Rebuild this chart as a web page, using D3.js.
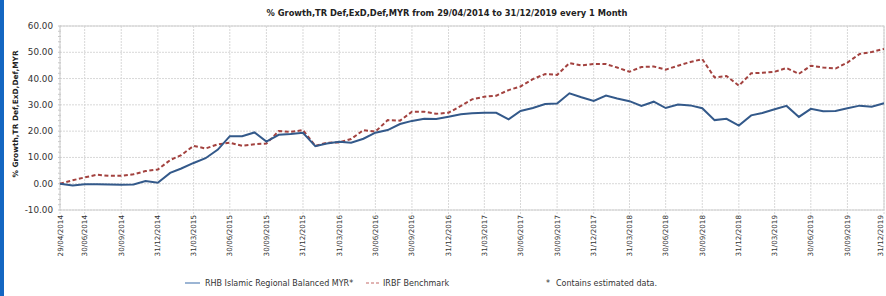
<!DOCTYPE html>
<html>
<head>
<meta charset="utf-8">
<script src="https://cdn.jsdelivr.net/npm/d3@7"></script>
<style>
  body { margin: 0; padding: 0; background: #fff; font-family: "DejaVu Sans", Verdana, sans-serif; }
  svg { display: block; }
</style>
</head>
<body>
<svg id="chart" width="886" height="296"></svg>
<script>
// values, one per month end, 29/04/2014 .. 31/12/2019
const fundValues = [
  0.0, -0.7, -0.2, -0.2, -0.3, -0.4, -0.3, 1.0, 0.4, 4.1,
  5.8, 7.9, 9.7, 13.0, 18.1, 18.1, 19.5, 16.0, 18.6, 18.9,
  19.4, 14.3, 15.3, 16.0, 15.6, 17.1, 19.4, 20.4, 22.7, 23.9,
  24.7, 24.6, 25.5, 26.4, 26.8, 27.0, 27.0, 24.5, 27.7, 28.8,
  30.3, 30.5, 34.4, 32.9, 31.5, 33.5, 32.4, 31.4, 29.6, 31.2,
  28.8, 30.1, 29.8, 28.7, 24.2, 24.7, 22.1, 26.0, 26.9, 28.3,
  29.6, 25.4, 28.5, 27.6, 27.7, 28.7, 29.7, 29.3, 30.6
];
const benchValues = [
  0.0, 1.3, 2.4, 3.4, 3.0, 3.0, 3.6, 4.8, 5.4, 9.0,
  10.9, 14.4, 13.4, 15.0, 15.6, 14.4, 15.0, 15.3, 20.0, 19.7,
  20.4, 14.4, 15.6, 15.7, 17.0, 20.4, 19.8, 24.2, 24.0, 27.4,
  27.4, 26.6, 27.0, 29.6, 32.1, 33.1, 33.5, 35.6, 37.0, 39.8,
  41.7, 41.4, 45.9, 45.0, 45.6, 45.5, 44.2, 42.6, 44.4, 44.6,
  43.4, 44.9, 46.3, 47.4, 40.4, 41.0, 37.3, 42.0, 42.2, 42.6,
  44.0, 41.8, 44.9, 44.2, 43.8, 46.1, 49.4, 50.1, 51.3
];
const tickLabels = [
  "29/04/2014", "30/06/2014", "30/09/2014", "31/12/2014", "31/03/2015", "30/06/2015",
  "30/09/2015", "31/12/2015", "31/03/2016", "30/06/2016", "30/09/2016", "31/12/2016",
  "31/03/2017", "30/06/2017", "30/09/2017", "31/12/2017", "31/03/2018", "30/06/2018",
  "30/09/2018", "31/12/2018", "31/03/2019", "30/06/2019", "30/09/2019", "31/12/2019"
];
const yTicks = [-10, 0, 10, 20, 30, 40, 50, 60];
const seriesNames = ["RHB Islamic Regional Balanced MYR*", "IRBF Benchmark"];
const titleText = "% Growth,TR Def,ExD,Def,MYR from 29/04/2014 to 31/12/2019 every 1 Month";
const yTitle = "% Growth,TR Def,ExD,Def,MYR";
const noteText = "Contains estimated data.";

const parseDate = d3.timeParse("%d/%m/%Y");
const startDate = parseDate(tickLabels[0]);
// month-end dates, first point is the start date
const dates = fundValues.map((v, i) => i === 0 ? startDate : new Date(2014, 3 + i + 1, 0));

const fundColor = "#33598a";
const benchColor = "#a3423f";

const svg = d3.select("#chart");

// blue frame stripe on the left
svg.append("rect").attr("x", 0).attr("y", 0).attr("width", 4).attr("height", 296).attr("fill", "#1467c2");

const plotLeft = 60, plotRight = 884, plotTop = 26, plotBottom = 210;

const x = d3.scaleTime().domain([dates[0], dates[dates.length - 1]]).range([plotLeft, plotRight]);
const y = d3.scaleLinear().domain([-10, 60]).range([plotBottom, plotTop]);

const tickDates = tickLabels.map(parseDate);

// gridlines
svg.append("g")
  .selectAll("line")
  .data(yTicks)
  .join("line")
  .attr("x1", plotLeft).attr("x2", plotRight)
  .attr("y1", d => y(d)).attr("y2", d => y(d))
  .attr("stroke", "#d8d8d8")
  .attr("stroke-dasharray", "2,1");

svg.append("g")
  .selectAll("line")
  .data(tickDates)
  .join("line")
  .attr("x1", d => x(d)).attr("x2", d => x(d))
  .attr("y1", plotTop).attr("y2", plotBottom + 4)
  .attr("stroke", "#d8d8d8")
  .attr("stroke-dasharray", "2,1");

// plot frame
svg.append("rect")
  .attr("x", plotLeft).attr("y", plotTop)
  .attr("width", plotRight - plotLeft).attr("height", plotBottom - plotTop)
  .attr("fill", "none").attr("stroke", "#d0d0d0");

// y axis minor ticks
svg.append("g")
  .selectAll("line")
  .data(d3.range(-10, 60.1, 2))
  .join("line")
  .attr("x1", plotLeft - 2).attr("x2", plotLeft + 1)
  .attr("y1", d => y(d)).attr("y2", d => y(d))
  .attr("stroke", "#c8c8c8");

// y tick labels
svg.append("g")
  .selectAll("text")
  .data(yTicks)
  .join("text")
  .attr("x", plotLeft - 7)
  .attr("y", d => y(d) + 3)
  .attr("text-anchor", "end")
  .attr("font-size", "8.8px")
  .attr("fill", "#333")
  .text(d => d.toFixed(2));

// x tick labels, rotated (last one pulled in so it stays on the page)
svg.append("g")
  .selectAll("text")
  .data(tickDates)
  .join("text")
  .attr("transform", (d, i) => `translate(${Math.min(x(d) + 2.5, 883)},${plotBottom + 5}) rotate(-90)`)
  .attr("text-anchor", "end")
  .attr("font-size", "7.2px")
  .attr("fill", "#333")
  .text((d, i) => tickLabels[i]);

// title
svg.append("text")
  .attr("x", 447).attr("y", 16)
  .attr("text-anchor", "middle")
  .attr("font-size", "8.3px")
  .attr("font-weight", "bold")
  .attr("fill", "#222")
  .text(titleText);

svg.append("text")
  .attr("transform", "translate(18,114) rotate(-90)")
  .attr("text-anchor", "middle")
  .attr("font-size", "7.4px")
  .attr("font-weight", "bold")
  .attr("fill", "#222")
  .text(yTitle);

// lines
const line = d3.line()
  .x((d, i) => x(dates[i]))
  .y(d => y(d));

svg.append("path")
  .datum(benchValues)
  .attr("fill", "none")
  .attr("stroke", benchColor)
  .attr("stroke-width", 2)
  .attr("stroke-dasharray", "4,2.5")
  .attr("d", line);

svg.append("path")
  .datum(fundValues)
  .attr("fill", "none")
  .attr("stroke", fundColor)
  .attr("stroke-width", 2)
  .attr("d", line);

// legend
const legend = svg.append("g").attr("font-size", "8px").attr("fill", "#333");
legend.append("line").attr("x1", 185).attr("x2", 200).attr("y1", 283).attr("y2", 283)
  .attr("stroke", "#5b84b8").attr("stroke-width", 1.2);
legend.append("text").attr("x", 205).attr("y", 286).text(seriesNames[0]);
legend.append("line").attr("x1", 366).attr("x2", 379).attr("y1", 283).attr("y2", 283)
  .attr("stroke", "#c46a68").attr("stroke-width", 1.2).attr("stroke-dasharray", "3,2");
legend.append("text").attr("x", 383).attr("y", 286).text(seriesNames[1]);
legend.append("text").attr("x", 546).attr("y", 286).text("*");
legend.append("text").attr("x", 556).attr("y", 286).text(noteText);
</script>
</body>
</html>
